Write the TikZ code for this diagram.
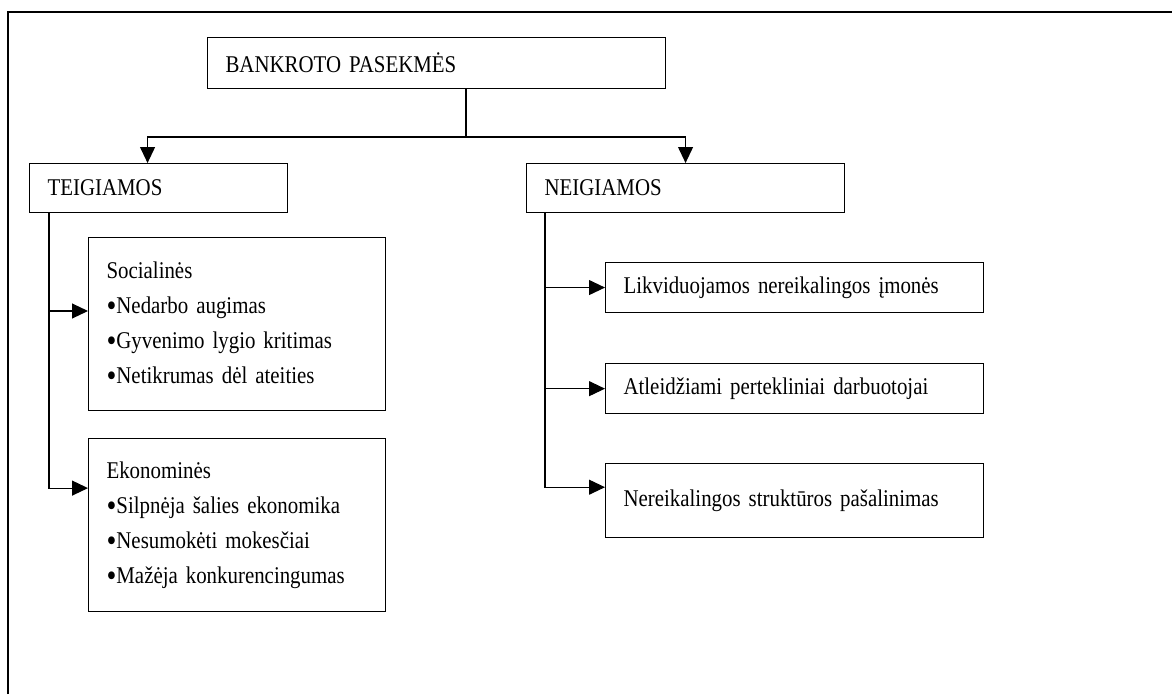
\documentclass[tikz,border=0pt]{standalone}
\usepackage{fontspec}
\setmainfont{Liberation Serif}[FakeStretch=0.87]
\usetikzlibrary{positioning,calc,arrows.meta}

\newcommand{\blt}{\raisebox{-2.8pt}{\scalebox{1.35}{•}}}

\tikzset{
    box/.style={draw, line width=1.1pt, anchor=north west, align=left,
        inner xsep=18pt, inner ysep=2pt,
        font=\fontsize{24}{35}\selectfont},
    link/.style={line width=1.1pt},
    arr/.style={link, -{Triangle[length=16pt,width=15pt]}}
}

\begin{document}
\begin{tikzpicture}[x=1pt, y=-1pt]
        \useasboundingbox (0,0) rectangle (1172,694);
        % frame
        \draw[link] (8,694) -- (8,12) -- (1172,12);

        \node[box, text width=422pt, minimum height=51pt] (title) at (207,37) {BANKROTO PASEKMĖS};
        \node[box, text width=222pt, minimum height=49pt] (teig) at (29,163) {TEIGIAMOS};
        \node[box, text width=282pt, minimum height=49pt] (neig) at (526,163) {NEIGIAMOS};

        \node[box, text width=261pt, minimum height=173pt] (soc) at (88,237)
            {Socialinės\\\blt Nedarbo augimas\\\blt Gyvenimo lygio kritimas\\\blt Netikrumas dėl ateities};
        \node[box, text width=261pt, minimum height=173pt, below=27pt of soc.south west, anchor=north west] (ekon)
            {Ekonominės\\\blt Silpnėja šalies ekonomika\\\blt Nesumokėti mokesčiai\\\blt Mažėja konkurencingumas};

        \node[box, text width=342pt, minimum height=50pt] (likv) at (605,262) {Likviduojamos nereikalingos įmonės};
        \node[box, text width=342pt, minimum height=50pt, below=50pt of likv.south west, anchor=north west] (atl)
            {Atleidžiami pertekliniai darbuotojai};
        \node[box, text width=342pt, minimum height=74pt, below=49pt of atl.south west, anchor=north west] (nereik)
            {Nereikalingos struktūros pašalinimas};

        % top fork
        \coordinate (fork) at (466,137);
        \draw[link] (title.south -| fork) -- (fork);
        \draw[arr] (fork) -| ([xshift=-11pt]teig.north);
        \draw[arr] (fork) -| (neig.north);

        % left branch
        \coordinate (lbus) at ([xshift=20pt]teig.south west);
        \draw[arr] (lbus) |- ($(soc.north west)+(0,74)$);
        \draw[arr] (lbus) |- ($(ekon.north west)+(0,50)$);

        % right branch
        \coordinate (rbus) at ([xshift=19pt]neig.south west);
        \draw[arr] (rbus) |- (likv.west);
        \draw[arr] (rbus) |- (atl.west);
        \draw[arr] (rbus) |- ($(nereik.north west)+(0,24)$);
\end{tikzpicture}
\end{document}
